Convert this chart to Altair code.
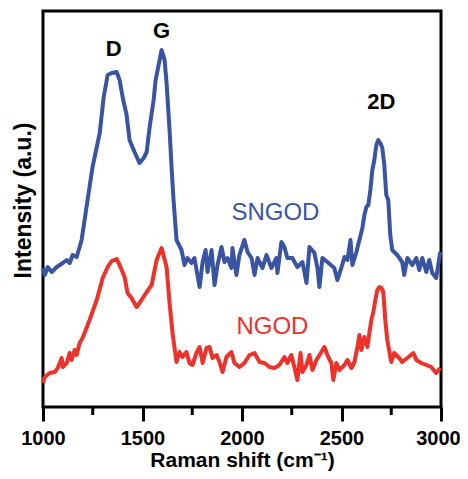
import altair as alt
import pandas as pd

# Raman shift (cm-1) and intensity (a.u.)
sngod_x = [1000, 1009, 1024, 1044, 1069, 1084, 1099, 1119, 1134, 1149,
           1169, 1184, 1194, 1224, 1249, 1285, 1305, 1325, 1345, 1370,
           1385, 1400, 1420, 1435, 1460, 1485, 1506, 1521, 1536, 1556,
           1566, 1581, 1596, 1611, 1621, 1636, 1646, 1656, 1671, 1696,
           1711, 1726, 1746, 1761, 1776, 1787, 1802, 1817, 1827, 1847,
           1862, 1877, 1897, 1912, 1927, 1947, 1952, 1972, 1987, 2012,
           2028, 2048, 2063, 2078, 2103, 2123, 2148, 2173, 2178, 2198,
           2213, 2228, 2253, 2278, 2304, 2324, 2339, 2364, 2379, 2389,
           2404, 2429, 2464, 2479, 2499, 2515, 2530, 2545, 2555, 2575,
           2590, 2605, 2615, 2625, 2635, 2645, 2655, 2665, 2675, 2685,
           2695, 2705, 2715, 2725, 2735, 2745, 2755, 2780, 2805, 2815,
           2831, 2856, 2876, 2891, 2906, 2926, 2941, 2956, 2976, 2996]
sngod_y = [139, 132, 140, 135, 140, 142, 144, 147, 144, 152,
           150, 160, 167, 207, 240, 274, 310, 332, 334, 335,
           327, 310, 292, 267, 255, 244, 249, 255, 280, 307,
           327, 342, 357, 347, 324, 277, 240, 207, 167, 157,
           142, 149, 144, 149, 132, 120, 145, 157, 135, 157,
           122, 142, 160, 145, 149, 139, 159, 132, 152, 167,
           155, 149, 132, 149, 139, 152, 139, 149, 134, 165,
           160, 149, 149, 140, 145, 124, 160, 154, 139, 120,
           149, 145, 139, 127, 139, 150, 147, 167, 142, 155,
           167, 179, 192, 200, 202, 217, 237, 247, 262, 267,
           264, 259, 242, 212, 207, 172, 157, 152, 145, 132,
           149, 142, 149, 137, 149, 135, 147, 134, 129, 155]

ngod_x = [1000, 1009, 1034, 1059, 1074, 1094, 1099, 1119, 1134, 1144,
          1159, 1169, 1184, 1199, 1234, 1270, 1300, 1325, 1345, 1370,
          1385, 1410, 1425, 1445, 1470, 1485, 1521, 1546, 1571, 1596,
          1621, 1636, 1651, 1661, 1671, 1686, 1701, 1721, 1736, 1751,
          1771, 1787, 1802, 1822, 1837, 1852, 1872, 1887, 1902, 1922,
          1947, 1962, 1987, 2012, 2038, 2063, 2088, 2113, 2138, 2163,
          2188, 2213, 2228, 2248, 2263, 2278, 2294, 2304, 2324, 2339,
          2354, 2374, 2399, 2414, 2429, 2449, 2459, 2474, 2489, 2515,
          2530, 2550, 2565, 2580, 2590, 2600, 2615, 2630, 2640, 2650,
          2660, 2670, 2680, 2690, 2700, 2710, 2720, 2730, 2750, 2765,
          2790, 2805, 2831, 2861, 2876, 2901, 2926, 2951, 2976, 2996]
ngod_y = [24, 30, 34, 35, 39, 49, 40, 44, 54, 47,
          57, 52, 64, 69, 87, 107, 129, 140, 146, 148,
          142, 130, 114, 109, 100, 104, 115, 122, 147, 159,
          140, 104, 74, 59, 45, 55, 50, 55, 44, 42,
          54, 60, 44, 59, 60, 49, 52, 45, 35, 50,
          55, 44, 40, 44, 52, 54, 45, 44, 40, 39,
          42, 50, 44, 52, 40, 27, 54, 35, 42, 52,
          37, 47, 55, 60, 52, 44, 27, 44, 37, 42,
          47, 39, 45, 60, 72, 57, 70, 60, 74, 87,
          95, 107, 117, 120, 119, 115, 87, 67, 45, 54,
          49, 45, 49, 54, 47, 44, 42, 40, 34, 39]

series_names = ["SNGOD", "NGOD"]
series_colors = ["#3A54A4", "#EE3129"]

major_ticks = [1000, 1500, 2000, 2500, 3000]
minor_ticks = [1250, 1750, 2250, 2750]

peak_labels = ["D", "G", "2D"]
peak_x = [1355, 1596, 2700]
peak_y = [358, 376, 305]

series_label_x = [2168, 2153]
series_label_y = [194, 80]

df = pd.concat([
    pd.DataFrame({"shift": sngod_x, "intensity": sngod_y, "sample": "SNGOD"}),
    pd.DataFrame({"shift": ngod_x, "intensity": ngod_y, "sample": "NGOD"}),
])
peaks = pd.DataFrame({"label": peak_labels, "shift": peak_x, "intensity": peak_y})
slabels = pd.DataFrame({"label": series_names, "shift": series_label_x,
                        "intensity": series_label_y})
minor = pd.DataFrame({"shift": minor_ticks})

W, H = 398, 396
xscale = alt.Scale(domain=[1000, 3000], nice=False, zero=False)
yscale = alt.Scale(domain=[0, 396], nice=False, zero=False)
cscale = alt.Scale(domain=series_names, range=series_colors)

lines = alt.Chart(df).mark_line(strokeWidth=4, strokeJoin="round").encode(
    x=alt.X("shift:Q", scale=xscale,
            axis=alt.Axis(values=major_ticks, title="Raman shift (cm\u207b\u00b9)",
                          format="d", domain=False, grid=False, labelFlush=False,
                          labelOverlap=False,
                          labelOffset={"condition": {"test": "datum.value === 3000",
                                                     "value": -3},
                                       "value": 0},
                          tickSize=14, tickWidth=3, tickColor="black",
                          labelFontSize=20, labelFont="Liberation Sans",
                          labelFontWeight="bold", labelColor="black",
                          labelPadding=7, titleFontSize=21,
                          titleFont="Liberation Sans", titleFontWeight="bold",
                          titleColor="black", titleBaseline="alphabetic",
                          titleY=59)),
    y=alt.Y("intensity:Q", scale=yscale,
            axis=alt.Axis(title="Intensity (a.u.)", labels=False, ticks=False,
                          domain=False, grid=False, titleFontSize=23,
                          titleFont="Liberation Sans", titleFontWeight="bold",
                          titleColor="black", titlePadding=8, titleY=189)),
    color=alt.Color("sample:N", scale=cscale, legend=None),
    detail="sample:N",
)

minor_rules = alt.Chart(minor).mark_rule(strokeWidth=3, color="black").encode(
    x=alt.X("shift:Q", scale=xscale),
    y=alt.value(H),
    y2=alt.value(H + 8),
)

peak_text = alt.Chart(peaks).mark_text(
    font="Liberation Sans", fontSize=22, fontWeight="bold", color="black",
    align="center", baseline="middle"
).encode(
    x=alt.X("shift:Q", scale=xscale),
    y=alt.Y("intensity:Q", scale=yscale),
    text="label:N",
)

series_text = alt.Chart(slabels).mark_text(
    font="Liberation Sans", fontSize=24, align="center", baseline="middle"
).encode(
    x=alt.X("shift:Q", scale=xscale),
    y=alt.Y("intensity:Q", scale=yscale),
    text="label:N",
    color=alt.Color("label:N", scale=cscale, legend=None),
)

chart = alt.layer(lines, minor_rules, peak_text, series_text).properties(
    width=W, height=H,
    background="white",
    autosize=alt.AutoSizeParams(type="none"),
    padding={"left": 35, "top": 3, "right": 19, "bottom": 64},
).configure_view(stroke="black", strokeWidth=3)

chart.save("out.html", embed_options={"renderer": "svg", "actions": False})
